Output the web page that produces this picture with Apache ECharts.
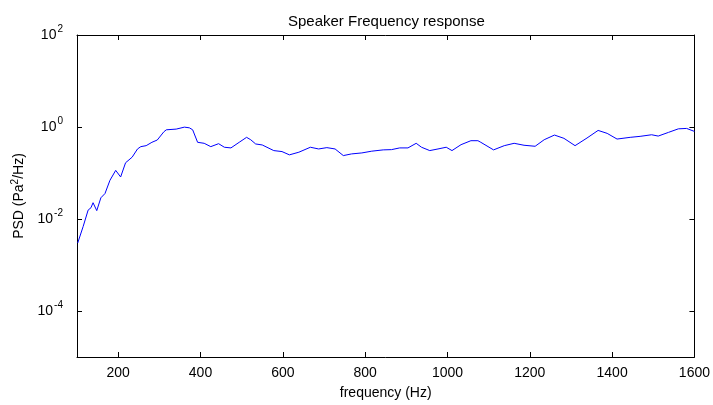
<!DOCTYPE html>
<html>
<head>
<meta charset="utf-8">
<script src="https://cdn.jsdelivr.net/npm/echarts@6/dist/echarts.min.js"></script>
<style>html,body{margin:0;padding:0;background:#fff}#c{width:713px;height:405px}</style>
</head>
<body>
<div id="c"></div>
<script>
var titleText = 'Speaker Frequency response';
var xName = 'frequency (Hz)';
var xTicks = [200, 400, 600, 800, 1000, 1200, 1400, 1600];
var yTicks = [1e-4, 1e-2, 1, 100];
var freq = [101.7, 115, 127, 134, 139, 148, 158, 168, 180, 194, 206, 218, 234, 247, 255, 268, 282, 295, 311, 317, 341, 361, 373, 381, 393, 409, 425, 444, 458, 474, 494, 512, 522, 534, 550, 578, 598, 616, 639, 667, 687, 707, 727, 747, 767, 792, 816, 844, 864, 884, 904, 924, 937, 957, 977, 997, 1011, 1033, 1057, 1074, 1081, 1112, 1138, 1162, 1186, 1213, 1235, 1260, 1283, 1310, 1339, 1366, 1388, 1412, 1444, 1468, 1496, 1512, 1537, 1561, 1581, 1600];
var psd = [0.0030, 0.0069, 0.0156, 0.0176, 0.0226, 0.0152, 0.0289, 0.0358, 0.0692, 0.114, 0.082, 0.167, 0.221, 0.333, 0.374, 0.393, 0.465, 0.521, 0.787, 0.869, 0.90, 0.993, 0.96, 0.869, 0.465, 0.442, 0.374, 0.434, 0.363, 0.351, 0.465, 0.596, 0.529, 0.428, 0.407, 0.307, 0.292, 0.248, 0.283, 0.363, 0.333, 0.356, 0.333, 0.239, 0.260, 0.273, 0.298, 0.318, 0.322, 0.351, 0.351, 0.442, 0.363, 0.307, 0.333, 0.363, 0.307, 0.413, 0.504, 0.504, 0.465, 0.318, 0.393, 0.442, 0.401, 0.381, 0.529, 0.668, 0.567, 0.393, 0.576, 0.843, 0.727, 0.547, 0.596, 0.626, 0.678, 0.635, 0.764, 0.912, 0.931, 0.802];

var font = 'Liberation Sans, Arial, sans-serif';
var data = freq.map(function (f, i) { return [f, psd[i]]; });

function expLabel(v) {
  var e = Math.round(Math.log10(v));
  return '{b|10}{e|' + e + '}';
}

var chart = echarts.init(document.getElementById('c'), null, {renderer: 'canvas'});
var tickStyle = {show: true, inside: true, length: 5, lineStyle: {color: '#000', width: 1}};
chart.setOption({
  animation: false,
  backgroundColor: '#fff',
  title: {
    text: titleText, left: 283, top: 9,
    textStyle: {fontFamily: font, fontSize: 15, fontWeight: 'normal', color: '#000'}
  },
  grid: {left: 77, right: 15, top: 35, bottom: 45, containLabel: false},
  xAxis: [{
    type: 'value', min: 100, max: 1600,
    name: xName, nameLocation: 'middle', nameGap: 29,
    nameTextStyle: {fontFamily: font, fontSize: 14, color: '#000'},
    axisLine: {show: true, onZero: false, lineStyle: {color: '#000', width: 1}},
    axisTick: Object.assign({customValues: xTicks}, tickStyle),
    axisLabel: {customValues: xTicks, fontFamily: font, fontSize: 14, color: '#000', margin: 9,
      formatter: function (v) { return String(v); }},
    splitLine: {show: false}
  }, {
    type: 'value', min: 100, max: 1600, position: 'top',
    axisLine: {show: true, onZero: false, lineStyle: {color: '#000', width: 1}},
    axisTick: Object.assign({customValues: xTicks}, tickStyle),
    axisLabel: {show: false},
    splitLine: {show: false}
  }],
  yAxis: [{
    type: 'log', logBase: 10, min: 1e-5, max: 100,
    name: '{a|PSD (Pa}{s|2}{a|/Hz)}', nameLocation: 'middle', nameGap: 48, nameRotate: 90,
    nameTextStyle: {
      rich: {
        a: {fontFamily: font, fontSize: 14, color: '#000'},
        s: {fontFamily: font, fontSize: 10, color: '#000', padding: [0, 0, 8, 0]}
      }
    },
    axisLine: {show: true, onZero: false, lineStyle: {color: '#000', width: 1}},
    axisTick: Object.assign({customValues: yTicks}, tickStyle),
    axisLabel: {
      customValues: yTicks, margin: 14, formatter: expLabel,
      rich: {
        b: {fontFamily: font, fontSize: 14, color: '#000'},
        e: {fontFamily: font, fontSize: 10, color: '#000', padding: [0, 0, 12, 1]}
      }
    },
    splitLine: {show: false}
  }, {
    type: 'log', logBase: 10, min: 1e-5, max: 100, position: 'right',
    axisLine: {show: true, onZero: false, lineStyle: {color: '#000', width: 1}},
    axisTick: Object.assign({customValues: yTicks}, tickStyle),
    axisLabel: {show: false},
    splitLine: {show: false}
  }],
  series: [{
    type: 'line', data: data, xAxisIndex: 0, yAxisIndex: 0,
    showSymbol: false, symbol: 'none',
    lineStyle: {color: '#0000ff', width: 1},
    itemStyle: {color: '#0000ff'}
  }]
});
</script>
</body>
</html>
